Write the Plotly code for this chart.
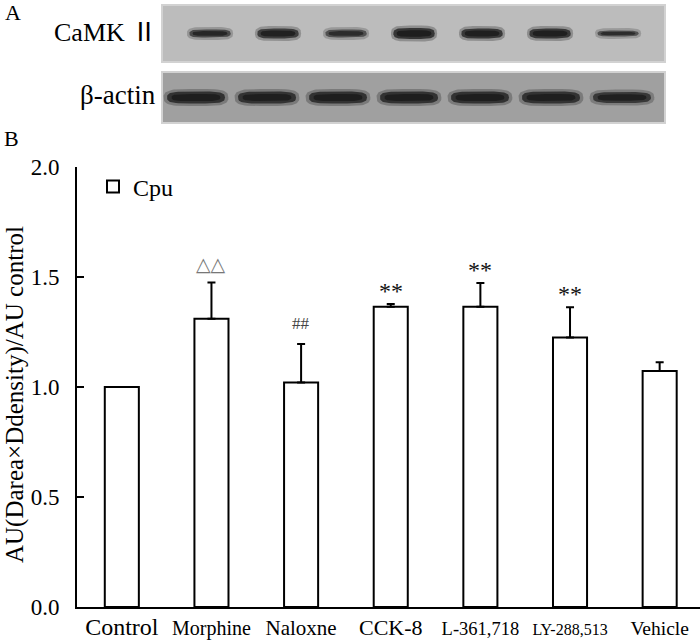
import numpy as np
import plotly.graph_objects as go

# CaMKII の相対発現量 (Cpu)
groups = ["Control", "Morphine", "Naloxne", "CCK-8", "L-361,718", "LY-288,513", "Vehicle"]
means = [1.00, 1.31, 1.02, 1.365, 1.365, 1.225, 1.073]
sem = [None, 0.165, 0.175, 0.012, 0.108, 0.138, 0.039]
marks = ["", "△△", "##", "**", "**", "**", ""]
tick_sizes = [24, 20, 21, 22, 18.5, 16, 19.5]
yticks = [0.0, 0.5, 1.0, 1.5, 2.0]

# ウエスタンブロットのバンド濃さ (0-1) と太さ(px)
lanes = list(range(7))
camk_dark = [0.8, 0.9, 0.72, 0.98, 0.96, 0.96, 0.72]
camk_thick = [8, 10, 8, 11, 10, 10, 6]
actin_dark = [0.98, 0.96, 0.97, 0.98, 0.97, 0.96, 0.9]
actin_thick = [12, 12, 12, 12, 12, 12, 11]

FONT = "Liberation Serif, Noto Sans CJK SC, serif"

fig = go.Figure()

# 棒グラフ
fig.add_trace(go.Bar(
    x=groups, y=means, name="Cpu", width=0.38,
    marker=dict(color="white", line=dict(color="black", width=2)),
    error_y=dict(type="data", symmetric=False, array=sem,
                 arrayminus=[0] * len(sem), color="black", thickness=2, width=4),
))

# 有意差マーク
for g, m, s, mk in zip(groups, means, sem, marks):
    if not mk:
        continue
    top = m + (s or 0)
    if mk == "△△":
        fnt = dict(family="DejaVu Sans", size=19, color="#777777")
        ys = 6
    elif mk == "##":
        fnt = dict(family=FONT, size=17, color="#444444")
        ys = 9
    else:
        fnt = dict(family=FONT, size=24, color="#111111")
        ys = -2
    fig.add_annotation(x=g, y=top, xref="x", yref="y", text=mk, showarrow=False,
                       yanchor="bottom", yshift=ys, font=fnt)

# ブロット (CaMKII / β-actin): 角の丸いバンドを塗りつぶしで描く
t = np.linspace(0, 2 * np.pi, 60)
cx = np.sign(np.cos(t)) * np.abs(np.cos(t)) ** 0.45
cy = np.sign(np.sin(t)) * np.abs(np.sin(t)) ** 0.7
layers = [(1.06, 1.0, 2.5, 0.3), (0.95, 1.0, 0.0, 0.8), (0.8, 0.6, 0.0, 1.0)]

def add_bands(dark, thick, half, xa, ya):
    for i, a, w in zip(lanes, dark, thick):
        for lf, hf, pad, af in layers:
            fig.add_trace(go.Scatter(
                x=i + half * lf * cx, y=(w / 2 * hf + pad) * cy,
                mode="lines", fill="toself", line=dict(width=0),
                fillcolor=f"rgba(30,30,30,{a * af:.2f})",
                xaxis=xa, yaxis=ya, showlegend=False, hoverinfo="skip"))

add_bands(camk_dark, camk_thick, 0.32, "x2", "y2")
add_bands(actin_dark, actin_thick, 0.43, "x3", "y3")

for xa, ya, fill in [("x2", "y2", "#bcbcbc"), ("x3", "y3", "#a0a0a0")]:
    fig.add_shape(type="rect", xref=f"{xa} domain", yref=f"{ya} domain",
                  x0=0, x1=1, y0=0, y1=1, fillcolor=fill,
                  line=dict(color="#d2d2d2", width=2), layer="below")

# テキスト
fig.add_annotation(x=159 / 700, y=1 - 33 / 641, xref="paper", yref="paper",
                   text="CaMK Ⅱ", showarrow=False, xanchor="right", yanchor="middle",
                   font=dict(family=FONT, size=26, color="black"))
fig.add_annotation(x=158 / 700, y=1 - 95 / 641, xref="paper", yref="paper",
                   text="β-actin", showarrow=False, xanchor="right", yanchor="middle",
                   font=dict(family=FONT, size=27, color="black"))
fig.add_annotation(x=3 / 700, y=1 - 13 / 641, xref="paper", yref="paper",
                   text="A", showarrow=False, xanchor="left", yanchor="middle",
                   font=dict(family=FONT, size=22, color="black"))
fig.add_annotation(x=2 / 700, y=1 - 138 / 641, xref="paper", yref="paper",
                   text="B", showarrow=False, xanchor="left", yanchor="middle",
                   font=dict(family=FONT, size=22, color="black"))
fig.add_annotation(x=15 / 700, y=1 - 395 / 641, xref="paper", yref="paper",
                   text="AU(Darea×Ddensity)/AU control", showarrow=False,
                   textangle=-90, xanchor="center", yanchor="middle",
                   font=dict(family=FONT, size=25, color="black"))

ticktext = [f"<span style='font-size:{s}px'>{g}</span>" for g, s in zip(groups, tick_sizes)]

fig.update_layout(
    width=700, height=641,
    margin=dict(l=0, r=0, t=0, b=0),
    paper_bgcolor="white", plot_bgcolor="white",
    font=dict(family=FONT, size=22, color="black"),
    showlegend=True,
    legend=dict(x=93 / 700, y=1 - 187 / 641, xanchor="left", yanchor="middle",
                bgcolor="rgba(0,0,0,0)", font=dict(family=FONT, size=24)),
    xaxis=dict(domain=[77 / 700, 1.0], range=[-0.5, 6.45], showline=True,
               linecolor="black", linewidth=2, ticks="", tickangle=0,
               tickvals=groups, ticktext=ticktext, showgrid=False, zeroline=False,
               automargin=False),
    yaxis=dict(domain=[34 / 641, 474 / 641], range=[0, 2.0], showline=True,
               linecolor="black", linewidth=2, ticks="inside", ticklen=7,
               tickwidth=1.5, tickcolor="black", tickvals=yticks,
               tickformat=".1f", ticklabelstandoff=11, showgrid=False,
               zeroline=False, tickfont=dict(size=23), automargin=False),
    xaxis2=dict(domain=[162 / 700, 665 / 700], range=[-0.706, 6.69],
                anchor="y2", visible=False),
    yaxis2=dict(domain=[1 - 62 / 641, 1 - 5 / 641], range=[-28.5, 28.5],
                anchor="x2", visible=False),
    xaxis3=dict(domain=[162 / 700, 665 / 700], range=[-0.479, 6.606],
                anchor="y3", visible=False),
    yaxis3=dict(domain=[1 - 123 / 641, 1 - 72 / 641], range=[-25.5, 25.5],
                anchor="x3", visible=False),
)

fig.write_html("out.html", config={"displayModeBar": False},
               post_script="document.body.style.margin='0';")
